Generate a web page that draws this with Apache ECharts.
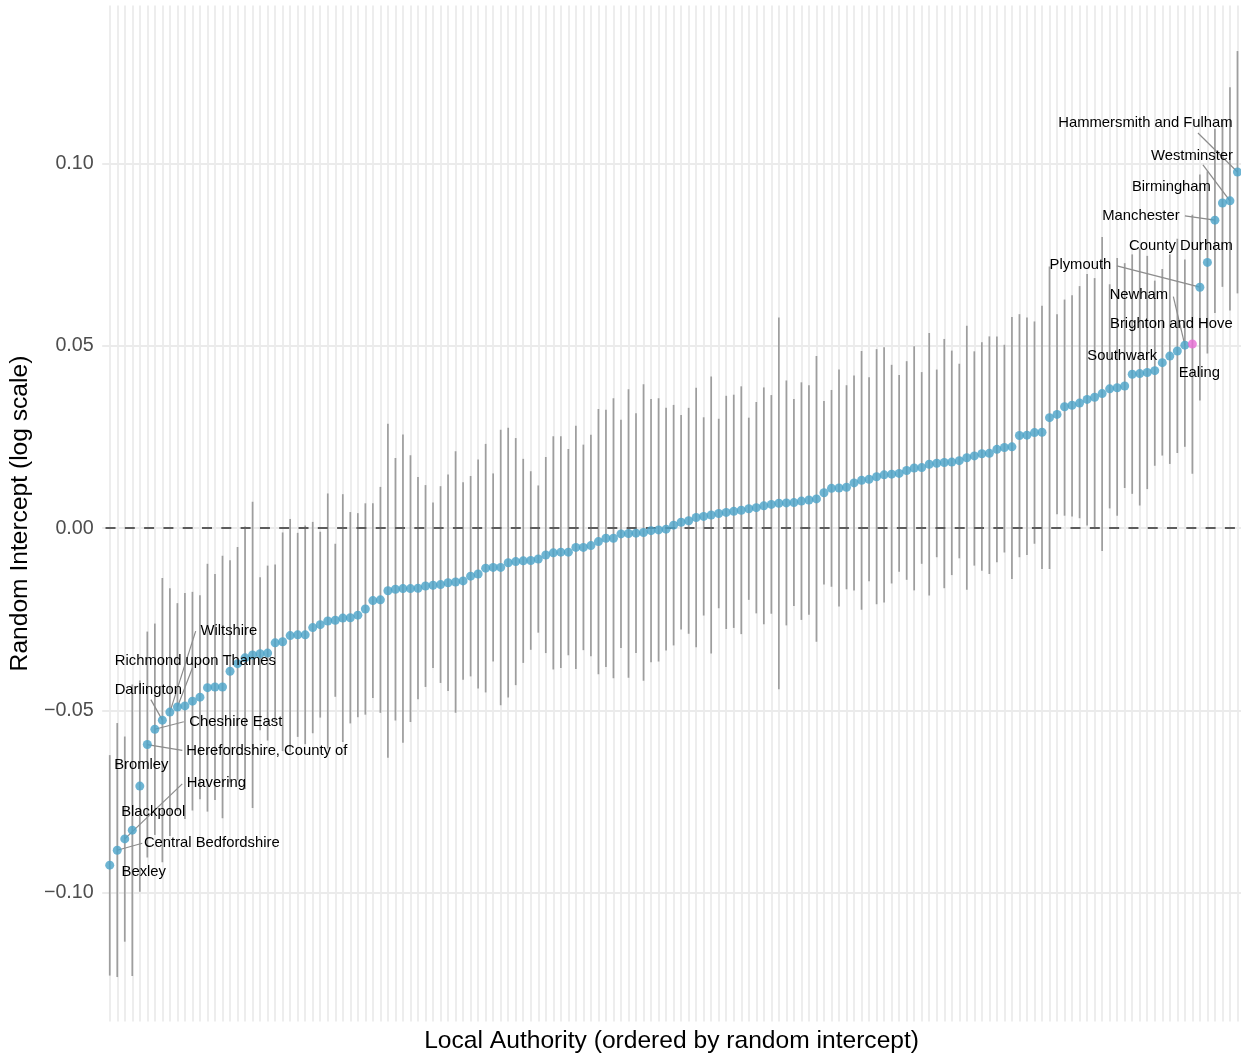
<!DOCTYPE html>
<html>
<head>
<meta charset="utf-8">
<title>Random intercepts by local authority</title>
<script src="https://cdn.jsdelivr.net/npm/echarts@6/dist/echarts.min.js"></script>
<style>
  html, body { margin: 0; padding: 0; background: #ffffff; }
  #chart { width: 1241px; height: 1059px; }
</style>
</head>
<body>
<div id="chart"></div>
<script>
// Random intercept per local authority (log scale), in ascending order
const estimates = [
  -0.0925, -0.0884, -0.0853, -0.0829, -0.0708, -0.0594, -0.0552, -0.0527, -0.0505, -0.0491,
  -0.0488, -0.0475, -0.0464, -0.0438, -0.0436, -0.0436, -0.0393, -0.0372, -0.0356, -0.0348,
  -0.0345, -0.0343, -0.0315, -0.0312, -0.0295, -0.0293, -0.0293, -0.0273, -0.0265, -0.0255,
  -0.0253, -0.0247, -0.0246, -0.0239, -0.0222, -0.0199, -0.0197, -0.0172, -0.0168, -0.0166,
  -0.0166, -0.0165, -0.0159, -0.0157, -0.0155, -0.0150, -0.0148, -0.0145, -0.0132, -0.0126,
  -0.0110, -0.0108, -0.0108, -0.0095, -0.0092, -0.0090, -0.0089, -0.0085, -0.0074, -0.0068,
  -0.0066, -0.0066, -0.0053, -0.0053, -0.0048, -0.0037, -0.0028, -0.0028, -0.0016, -0.0015,
  -0.0014, -0.0012, -0.0007, -0.0005, -0.0003,  0.0008,  0.0016,  0.0020,  0.0029,  0.0032,
   0.0036,  0.0040,  0.0043,  0.0046,  0.0049,  0.0053,  0.0056,  0.0061,  0.0065,  0.0068,
   0.0069,  0.0070,  0.0074,  0.0077,  0.0080,  0.0097,  0.0109,  0.0110,  0.0112,  0.0124,
   0.0131,  0.0134,  0.0141,  0.0146,  0.0148,  0.0150,  0.0158,  0.0165,  0.0166,  0.0175,
   0.0178,  0.0180,  0.0181,  0.0185,  0.0193,  0.0198,  0.0204,  0.0205,  0.0216,  0.0221,
   0.0223,  0.0254,  0.0255,  0.0262,  0.0263,  0.0303,  0.0312,  0.0333,  0.0337,  0.0343,
   0.0353,  0.0359,  0.0369,  0.0382,  0.0385,  0.0390,  0.0422,  0.0424,  0.0427,  0.0432,
   0.0454,  0.0472,  0.0486,  0.0502,  0.0505,  0.0661,  0.0729,  0.0845,  0.0892,  0.0898,
   0.0977
];

// Lower bound of each interval
const lower = [
  -0.1228, -0.1232, -0.1135, -0.1229, -0.0998, -0.0904, -0.0842, -0.0917, -0.0845, -0.0776,
  -0.0798, -0.0775, -0.0744, -0.0778, -0.0746, -0.0796, -0.0698, -0.0692, -0.0716, -0.0768,
  -0.0555, -0.0583, -0.0530, -0.0612, -0.0615, -0.0573, -0.0593, -0.0563, -0.0520, -0.0605,
  -0.0463, -0.0587, -0.0536, -0.0519, -0.0512, -0.0466, -0.0507, -0.0630, -0.0528, -0.0589,
  -0.0532, -0.0470, -0.0436, -0.0384, -0.0425, -0.0447, -0.0507, -0.0416, -0.0407, -0.0440,
  -0.0451, -0.0366, -0.0486, -0.0465, -0.0431, -0.0370, -0.0334, -0.0287, -0.0343, -0.0388,
  -0.0384, -0.0349, -0.0387, -0.0335, -0.0352, -0.0401, -0.0381, -0.0412, -0.0329, -0.0411,
  -0.0343, -0.0419, -0.0368, -0.0366, -0.0336, -0.0322, -0.0278, -0.0290, -0.0327, -0.0240,
  -0.0344, -0.0220, -0.0277, -0.0274, -0.0291, -0.0197, -0.0234, -0.0264, -0.0235, -0.0442,
  -0.0267, -0.0214, -0.0252, -0.0238, -0.0312, -0.0155, -0.0161, -0.0215, -0.0168, -0.0171,
  -0.0224, -0.0146, -0.0209, -0.0204, -0.0152, -0.0120, -0.0142, -0.0171, -0.0098, -0.0185,
  -0.0080, -0.0165, -0.0129, -0.0083, -0.0169, -0.0103, -0.0117, -0.0126, -0.0094, -0.0067,
  -0.0140, -0.0080, -0.0074, -0.0043, -0.0112, -0.0112,  0.0038,  0.0034,  0.0032,  0.0027,
   0.0007,  0.0002, -0.0063,  0.0054,  0.0034,  0.0110,  0.0094,  0.0062,  0.0107,  0.0171,
   0.0199,  0.0176,  0.0206,  0.0223,  0.0149,  0.0350,  0.0479,  0.0590,  0.0662,  0.0597,
   0.0644
];

// Upper bound of each interval
const upper = [
  -0.0623, -0.0535, -0.0572, -0.0429, -0.0418, -0.0284, -0.0262, -0.0137, -0.0165, -0.0206,
  -0.0178, -0.0175, -0.0184, -0.0098, -0.0126, -0.0076, -0.0088, -0.0052,  0.0004,  0.0072,
  -0.0135, -0.0103, -0.0100, -0.0012,  0.0025, -0.0013,  0.0007,  0.0017, -0.0010,  0.0095,
  -0.0043,  0.0093,  0.0044,  0.0041,  0.0068,  0.0068,  0.0113,  0.0286,  0.0192,  0.0257,
   0.0200,  0.0140,  0.0118,  0.0070,  0.0115,  0.0147,  0.0211,  0.0126,  0.0143,  0.0188,
   0.0231,  0.0150,  0.0270,  0.0275,  0.0247,  0.0190,  0.0156,  0.0117,  0.0195,  0.0252,
   0.0252,  0.0217,  0.0281,  0.0229,  0.0256,  0.0327,  0.0325,  0.0356,  0.0297,  0.0381,
   0.0315,  0.0395,  0.0354,  0.0356,  0.0330,  0.0338,  0.0310,  0.0330,  0.0385,  0.0304,
   0.0416,  0.0300,  0.0363,  0.0366,  0.0389,  0.0303,  0.0346,  0.0386,  0.0365,  0.0578,
   0.0405,  0.0354,  0.0400,  0.0392,  0.0472,  0.0349,  0.0379,  0.0435,  0.0392,  0.0419,
   0.0486,  0.0414,  0.0491,  0.0496,  0.0448,  0.0420,  0.0458,  0.0499,  0.0428,  0.0535,
   0.0435,  0.0519,  0.0487,  0.0451,  0.0555,  0.0485,  0.0510,  0.0526,  0.0526,  0.0503,
   0.0579,  0.0587,  0.0578,  0.0567,  0.0610,  0.0718,  0.0587,  0.0627,  0.0639,  0.0664,
   0.0697,  0.0686,  0.0799,  0.0669,  0.0741,  0.0727,  0.0751,  0.0767,  0.0747,  0.0679,
   0.0711,  0.0751,  0.0794,  0.0737,  0.0860,  0.0970,  0.0979,  0.1096,  0.1120,  0.1210,
   0.1309
];

// Named authorities and their position in the ordering (1 = lowest intercept)
const namedRanks = [1, 2, 3, 4, 5, 6, 7, 8, 9, 10, 141, 143, 144, 145, 146, 147, 148, 149, 150, 151];
const namedAuthorities = [
  'Bexley', 'Central Bedfordshire', 'Havering', 'Blackpool', 'Bromley',
  'Herefordshire, County of', 'Cheshire East', 'Darlington', 'Wiltshire', 'Richmond upon Thames',
  'Southwark', 'Ealing', 'Newham', 'Brighton and Hove', 'Plymouth',
  'County Durham', 'Manchester', 'Birmingham', 'Westminster', 'Hammersmith and Fulham'
];
// The authority drawn in the accent colour
const highlightedAuthority = 'Brighton and Hove';

// Y-axis tick step and titles
const yTickStep = 0.05;
const xTitle = 'Local Authority (ordered by random intercept)';
const yTitle = 'Random Intercept (log scale)';

// Label placement: text-centre nudge and leader-line start, in pixels from the point
const labelPlacement = {
  'Bexley':                   { text: [34, 7],      leader: null },
  'Central Bedfordshire':     { text: [94.5, -7],   leader: [25, -7] },
  'Havering':                 { text: [91.5, -56],  leader: [57.5, -55] },
  'Blackpool':                { text: [21, -18],    leader: null },
  'Bromley':                  { text: [1.5, -21.5], leader: null },
  'Herefordshire, County of': { text: [119.5, 6],   leader: [35, 5.8] },
  'Cheshire East':            { text: [81, -7.5],   leader: [29, -7.5] },
  'Darlington':               { text: [-14, -30],   leader: [-11.5, -20.5] },
  'Wiltshire':                { text: [59, -81],    leader: [25.8, -81] },
  'Richmond upon Thames':     { text: [18, -46],    leader: [15, -39] },
  'Southwark':                { text: [-40, -6.5],  leader: null },
  'Ealing':                   { text: [22, 22],     leader: null },
  'Newham':                   { text: [-46, -50],   leader: [-11.5, -48.5] },
  'Brighton and Hove':        { text: [-21, -20],   leader: null },
  'Plymouth':                 { text: [-119.5, -22], leader: [-83, -21.4] },
  'County Durham':            { text: [-26.5, -17], leader: null },
  'Manchester':               { text: [-74, -4.5],  leader: [-30, -4.3] },
  'Birmingham':               { text: [-51, -16],   leader: null },
  'Westminster':              { text: [-38, -45],   leader: [-27, -36] },
  'Hammersmith and Fulham':   { text: [-92, -49],   leader: [-39.5, -39] }
};

const FONT = '"Liberation Sans", Arial, Helvetica, sans-serif';
const POINT_BLUE = '#4AA2C8';
const POINT_PINK = '#E76BD4';
const GRID_GREY = '#EBEBEB';

const ranks = estimates.map(function (_, k) { return k + 1; });
const highlightRank = namedRanks[namedAuthorities.indexOf(highlightedAuthority)];

// Panel padding after the last authority, in category units
const xPad = 0.47;

function formatTick(v) {
  const steps = v / yTickStep;
  if (Math.abs(steps - Math.round(steps)) > 1e-6) return '';
  const s = Math.abs(v).toFixed(2);
  return v < -1e-9 ? '\u2212' + s : s;
}

const intervalData = ranks.map(function (r, k) { return [r, lower[k], upper[k]]; });
const pointData = ranks.map(function (r, k) {
  return { value: [r, estimates[k]], itemStyle: { color: r === highlightRank ? POINT_PINK : POINT_BLUE } };
});
const namedData = namedRanks.map(function (r) { return [r, estimates[r - 1]]; });

const chart = echarts.init(document.getElementById('chart'), null, { renderer: 'canvas' });

chart.setOption({
  animation: false,
  backgroundColor: '#ffffff',
  textStyle: { fontFamily: FONT },
  grid: { left: 101.5, top: 5.5, right: 0, height: 1020, containLabel: false },
  xAxis: {
    type: 'value',
    min: 0,
    max: ranks.length + xPad,
    interval: 1,
    axisLine: { show: false },
    axisTick: { show: false },
    axisLabel: { show: false },
    splitLine: { show: true, showMinLine: false, showMaxLine: false, lineStyle: { color: GRID_GREY, width: 1.8 } },
    name: xTitle,
    nameLocation: 'middle',
    nameGap: 7.5,
    nameTextStyle: { fontSize: 24.6, color: '#000000', fontFamily: FONT }
  },
  yAxis: {
    type: 'value',
    min: -0.1354,
    max: 0.1434,
    minInterval: yTickStep,
    maxInterval: yTickStep,
    axisLine: { show: false },
    axisTick: { show: false },
    axisLabel: { formatter: formatTick, color: '#4D4D4D', fontSize: 19.7, margin: 8.5, fontFamily: FONT },
    splitLine: { show: true, showMinLine: false, showMaxLine: false, lineStyle: { color: GRID_GREY, width: 1.8 } },
    name: yTitle,
    nameLocation: 'middle',
    nameGap: 64,
    nameTextStyle: { fontSize: 24.6, color: '#000000', fontFamily: FONT }
  },
  series: [
    {
      // interval whiskers
      type: 'custom',
      silent: true,
      z: 2,
      data: intervalData,
      encode: { x: 0, y: [1, 2] },
      renderItem: function (params, api) {
        const a = api.coord([api.value(0), api.value(1)]);
        const b = api.coord([api.value(0), api.value(2)]);
        return {
          type: 'line',
          shape: { x1: a[0], y1: a[1], x2: b[0], y2: b[1] },
          style: { stroke: '#9E9E9E', lineWidth: 1.7 }
        };
      },
      markLine: {
        silent: true,
        symbol: 'none',
        label: { show: false },
        animation: false,
        lineStyle: { color: '#5C5C5C', width: 1.9, type: [10, 9.3], dashOffset: 16 },
        data: [{ yAxis: 0 }]
      }
    },
    {
      // leader lines from labels to their points
      type: 'custom',
      silent: true,
      z: 3,
      data: namedData,
      encode: { x: 0, y: 1 },
      renderItem: function (params, api) {
        const place = labelPlacement[namedAuthorities[params.dataIndex]];
        if (!place.leader) return null;
        const p = api.coord([api.value(0), api.value(1)]);
        return {
          type: 'line',
          shape: { x1: p[0] + place.leader[0], y1: p[1] + place.leader[1], x2: p[0], y2: p[1] },
          style: { stroke: '#8C8C8C', lineWidth: 1.2 }
        };
      }
    },
    {
      // point estimates
      type: 'scatter',
      silent: true,
      z: 10,
      symbol: 'circle',
      symbolSize: 9,
      data: pointData
    },
    {
      // authority names
      type: 'custom',
      silent: true,
      z: 12,
      data: namedData,
      encode: { x: 0, y: 1 },
      renderItem: function (params, api) {
        const name = namedAuthorities[params.dataIndex];
        const place = labelPlacement[name];
        const p = api.coord([api.value(0), api.value(1)]);
        return {
          type: 'text',
          x: p[0] + place.text[0],
          y: p[1] + place.text[1],
          style: {
            text: name,
            fill: '#000000',
            fontSize: 14.8,
            fontFamily: FONT,
            align: 'center',
            verticalAlign: 'middle'
          }
        };
      }
    }
  ]
});
</script>
</body>
</html>
